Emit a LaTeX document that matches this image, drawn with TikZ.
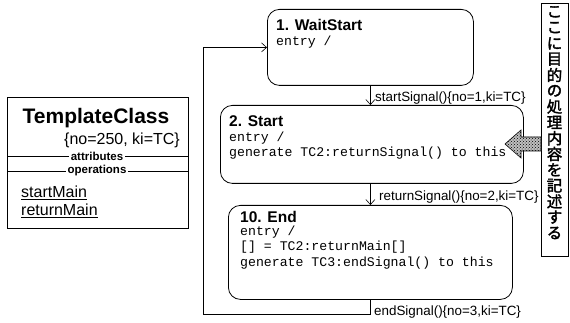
\documentclass[tikz,border=0pt]{standalone}
\usepackage{fontspec}
\setmainfont{Liberation Sans}
\setmonofont{Liberation Mono}
\newfontfamily\cjk{Noto Sans CJK JP}[FakeBold=2]
\usetikzlibrary{arrows.meta,patterns}

\begin{document}
\begin{tikzpicture}[x=1pt,y=-1pt,
  statebox/.style={draw, line width=0.8pt, rounded corners=12pt, anchor=north west, inner sep=0pt},
  stname/.style={anchor=west, inner sep=0pt, font=\bfseries\fontsize{15.5}{15.5}\selectfont},
  code/.style={anchor=west, inner sep=0pt, font=\ttfamily\fontsize{13.2}{13.2}\selectfont},
  tr/.style={line width=0.6pt, -{Straight Barb[length=5pt,width=9pt]}},
  lbl/.style={anchor=west, inner sep=0pt, font=\fontsize{13.4}{13.4}\selectfont},
  sep/.style={fill=white, inner sep=1.5pt, font=\bfseries\fontsize{11.5}{11.5}\selectfont},
  oper/.style={anchor=west, inner sep=0pt, font=\fontsize{16}{16}\selectfont},
  vchar/.style={inner sep=0pt, font=\cjk\fontsize{15.5}{15.5}\selectfont}
]
\useasboundingbox (0,0) rectangle (570,323);

% class box
\node[draw, line width=0.8pt, anchor=north west, minimum width=181pt, minimum height=131pt, inner sep=0pt] (cls) at (7,97) {};
\node[font=\bfseries\fontsize{21}{21}\selectfont, inner sep=0pt] (clsname) at (96,118) {TemplateClass};
\node[anchor=east, inner sep=0pt, font=\fontsize{16}{16}\selectfont] (clsprop) at (180,140) {\{no=250, ki=TC\}};
\draw[line width=0.6pt] (cls.west |- 0,156) -- (cls.east |- 0,156);
\node[sep] (attr) at (97,156) {attributes};
\draw[line width=0.6pt] (cls.west |- 0,171) -- (cls.east |- 0,171);
\node[sep] (ops) at (97,171) {operations};
\node[oper] (op1) at (21,193) {\underline{startMain}};
\node[oper] (op2) at (21,211) {\underline{returnMain}};

% state 1
\node[statebox, minimum width=206pt, minimum height=76pt] (s1) at (267,9) {};
\node[stname] (s1n) at (276,25) {1. WaitStart};
\node[code] (s1a) at (276,42) {entry /};

% state 2
\node[statebox, minimum width=303pt, minimum height=78pt] (s2) at (220,105) {};
\node[stname] (s2n) at (229,121) {2. Start};
\node[code] (s2a) at (229,138) {entry /};
\node[code] (s2b) at (229,153) {generate TC2:returnSignal() to this};

% state 3
\node[statebox, minimum width=284pt, minimum height=94pt] (s3) at (228,205) {};
\node[stname] (s3n) at (240,217) {10. End};
\node[code] (s3a) at (240,232) {entry /};
\node[code] (s3b) at (240,247) {[] = TC2:returnMain[]};
\node[code] (s3c) at (240,263) {generate TC3:endSignal() to this};

% transitions
\draw[tr] (s1.south) -- (s1.south |- s2.north);
\node[lbl] (l1) at (375,98) {startSignal()\{no=1,ki=TC\}};
\draw[tr] (s2.south -| s3.north) -- (s3.north);
\node[lbl] (l2) at (379,197) {returnSignal()\{no=2,ki=TC\}};
\coordinate (back) at (203,314);
\draw[tr] (s3.south) |- (back) |- (s1.west);
\node[lbl] (l3) at (374,312) {endSignal()\{no=3,ki=TC\}};

% note: frame, then one glyph per row
\draw[line width=0.8pt] (541,3) rectangle (568,256);
\coordinate (note) at (554.5,3);
\foreach \c [count=\i] in {こ,こ,に,目,的,の,処,理,内,容,を,記,述,す,る}
  \node[vchar] (nc\i) at ([yshift=-(\i*15.8-7)*1pt]note) {\c};

% dotted pointer arrow
\draw[line width=0.6pt, preaction={fill=black!25}, pattern=crosshatch dots, pattern color=black]
  (505,144) -- (521,130) -- (521,137) -- (541,137) -- (541,151) -- (521,151) -- (521,158) -- cycle;
\end{tikzpicture}
\end{document}
